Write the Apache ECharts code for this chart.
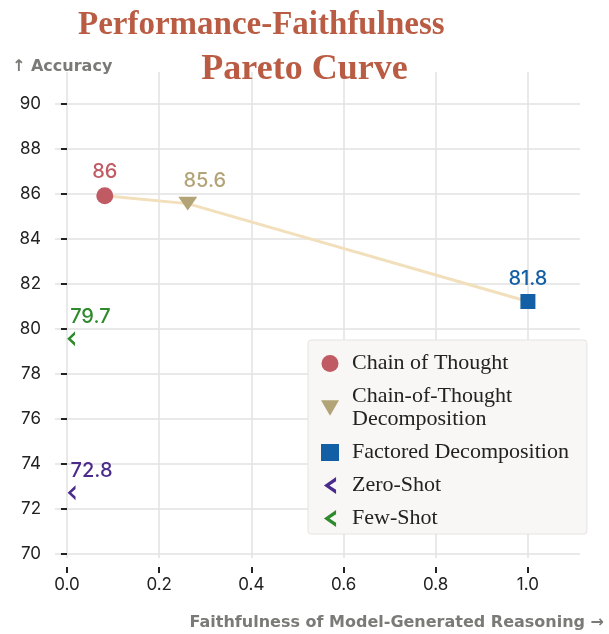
<!DOCTYPE html>
<html style="height: 100%">
<head>
    <meta charset="utf-8">
    <script src="https://cdn.jsdelivr.net/npm/echarts@6/dist/echarts.min.js"></script>
</head>
<body style="height: 100%; margin: 0; background: #fff">
    <div id="container" style="width: 609px; height: 634px"></div>
    <script type="text/javascript">

        // values
        let methods = ['Chain of Thought', 'Chain-of-Thought\nDecomposition', 'Factored Decomposition', 'Zero-Shot', 'Few-Shot'];
        let faithfulness = [0.082, 0.262, 1.0, 0.01, 0.009];
        let accuracy = [85.9, 85.55, 81.2, 72.7, 79.55];
        let pointLabels = ['86', '85.6', '81.8', '72.8', '79.7'];
        let colors = ['#c05a63', '#b3a477', '#135fa5', '#4a2b8c', '#2e8a2c'];
        let paretoIdx = [0, 1, 2];  // points joined by the curve
        let yTicks = [70, 72, 74, 76, 78, 80, 82, 84, 86, 88, 90];
        let xTicks = [0, 0.2, 0.4, 0.6, 0.8, 1.0];

        let chevron = 'path://M10,0 L0,7 L10,14 L10,10.6 L4.6,7 L10,3.4 Z';
        let downTriangle = 'path://M0,0 L20,0 L10,17 Z';
        let symbols = ['circle', downTriangle, 'rect', chevron, chevron];
        let sizes = [17, [19, 16], 15, [11, 15], [11, 15]];

        let sansFont = 'Inter';
        let nameFont = 'DejaVu Sans';

        let series = [{
            type: 'line',
            data: paretoIdx.map(i => [faithfulness[i], accuracy[i]]),
            symbol: 'none',
            lineStyle: { color: '#f2dfbb', width: 3 },
            z: 1,
            silent: true
        }];

        methods.forEach((m, i) => {
            let isShot = i >= 3;
            series.push({
                type: 'scatter',
                name: m,
                data: [[faithfulness[i], accuracy[i]]],
                symbol: symbols[i],
                symbolSize: sizes[i],
                symbolKeepAspect: true,
                itemStyle: { color: colors[i], opacity: 1 },
                z: 3,
                label: {
                    show: true,
                    position: 'top',
                    distance: isShot ? 4 : (i == 1 ? 6 : 5),
                    align: isShot ? 'left' : 'center',
                    offset: isShot ? [-1, 0] : (i == 1 ? [17, 0] : [0, 0]),
                    formatter: () => pointLabels[i],
                    color: colors[i],
                    fontFamily: sansFont,
                    fontSize: 20,
                    fontWeight: 500
                }
            });
        });

        let titleStyle = {
            fontFamily: 'Liberation Serif',
            fontWeight: 'bold',
            fontSize: 33,
            color: '#b95c43'
        };

        let chart = echarts.init(document.getElementById('container'));
        chart.setOption({
            backgroundColor: '#ffffff',
            animation: false,
            title: [
                { text: 'Performance-Faithfulness', left: 78, top: 9, padding: 0, textStyle: titleStyle },
                { text: 'Pareto Curve', left: 'center', top: 52, padding: 0, textStyle: Object.assign({}, titleStyle, { fontSize: 36 }) }
            ],
            grid: { left: 55, right: 29, top: 72, bottom: 76 },
            xAxis: {
                type: 'value',
                min: -0.026,
                max: 1.113,
                offset: 9,
                axisLine: { show: false },
                axisTick: { show: true, length: 6, customValues: xTicks, lineStyle: { color: '#222', width: 2 } },
                axisLabel: {
                    customValues: xTicks,
                    formatter: v => v.toFixed(1),
                    fontFamily: sansFont, fontSize: 17, color: '#222', margin: 9
                },
                splitLine: { show: true, lineStyle: { color: '#e2e2e2', width: 1.5 } }
            },
            yAxis: {
                type: 'value',
                min: 69.8,
                max: 91.4,
                axisLine: { show: false },
                axisTick: { show: true, length: 6, customValues: yTicks, lineStyle: { color: '#222', width: 2 } },
                axisLabel: {
                    customValues: yTicks,
                    fontFamily: sansFont, fontSize: 17, color: '#222', margin: 14
                },
                splitLine: { show: true, lineStyle: { color: '#e2e2e2', width: 1.5 } }
            },
            legend: {
                orient: 'vertical',
                left: 308,
                top: 340,
                padding: [12, 18, 4, 13],
                itemGap: 10,
                itemWidth: 18,
                itemHeight: 17,
                backgroundColor: '#f8f7f5',
                borderColor: '#e6e4e0',
                borderWidth: 1,
                borderRadius: 3,
                data: methods.map((m, i) => ({ name: m, icon: symbols[i] })),
                textStyle: {
                    fontFamily: 'Liberation Serif',
                    fontSize: 22,
                    lineHeight: 23,
                    color: '#222',
                    padding: [0, 0, 0, 8]
                }
            },
            graphic: [
                {
                    type: 'text', left: 12, top: 59,
                    style: { text: '↑ Accuracy', fontFamily: nameFont, fontSize: 16, fontWeight: 'bold', fill: '#7a7a76' }
                },
                {
                    type: 'text', right: 5, top: 615,
                    style: { text: 'Faithfulness of Model-Generated Reasoning →', fontFamily: nameFont, fontSize: 16, fontWeight: 'bold', fill: '#7a7a76' }
                }
            ],
            series: series
        });

    </script>
</body>
</html>
